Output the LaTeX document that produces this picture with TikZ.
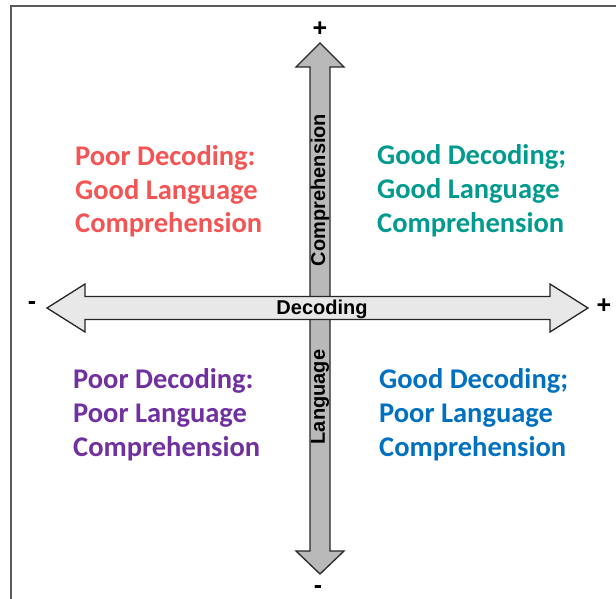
\documentclass[tikz,border=0pt]{standalone}
\usepackage{fontspec}
\setmainfont{Carlito}
\newfontfamily\axisfont{Liberation Sans}
\definecolor{poorgood}{RGB}{243,84,84}
\definecolor{goodgood}{RGB}{0,155,142}
\definecolor{poorpoor}{RGB}{112,48,160}
\definecolor{goodpoor}{RGB}{0,112,192}
\definecolor{vfill}{RGB}{185,185,185}
\definecolor{hfill}{RGB}{232,232,232}

\begin{document}
\begin{tikzpicture}[
    x=1pt, y=-1pt,
    quad/.style={anchor=base west, align=left, inner sep=0pt,
      font=\fontsize{28.5}{34}\selectfont\bfseries},
    axlabel/.style={inner sep=0pt, font=\axisfont\fontsize{20}{20}\selectfont\bfseries},
    sign/.style={inner sep=0pt, font=\axisfont\fontsize{25}{25}\selectfont\bfseries},
    blockarrow/.style={draw=black!85, line width=1.3pt, line join=miter},
    ]
    \useasboundingbox (0,0) rectangle (616,599);
    \clip (0,0) rectangle (616,599);
    % frame
    \draw[line width=2pt, black!65] (11,640) |- (640,6);
    % vertical arrow
    \draw[blockarrow, fill=vfill] (320,43) -- (344,67) -- (330,67) -- (330,551)
      -- (344,551) -- (320,574) -- (296,551) -- (310,551) -- (310,67)
      -- (296,67) -- cycle;
    % horizontal arrow
    \draw[blockarrow, fill=hfill] (47,308) -- (85,284) -- (85,296.5) -- (550,296.5)
      -- (550,284) -- (588,308) -- (550,332) -- (550,319.5) -- (85,319.5)
      -- (85,332) -- cycle;
    \node[axlabel, rotate=90] (comp) at (320,190) {Comprehension};
    \node[axlabel, rotate=90] (lang) at (320,397) {Language};
    \node[axlabel] (dec) at (322,309) {Decoding};
    \node[sign] (vplus) at (320,29) {+};
    \node[sign] (vminus) at (318,590) {-};
    \node[sign] (hplus) at (604,306) {+};
    \node[sign] (hminus) at (32,306) {-};
    % quadrants (anchored on the last line)
    \node[quad, poorgood] (pg) at (75,233) {Poor Decoding:\\Good Language\\Comprehension};
    \node[quad, goodgood] (gg) at (377,232) {Good Decoding;\\Good Language\\Comprehension};
    \node[quad, poorpoor] (pp) at (73,456) {Poor Decoding:\\Poor Language\\Comprehension};
    \node[quad, goodpoor] (gp) at (379,456) {Good Decoding;\\Poor Language\\Comprehension};
\end{tikzpicture}
\end{document}
